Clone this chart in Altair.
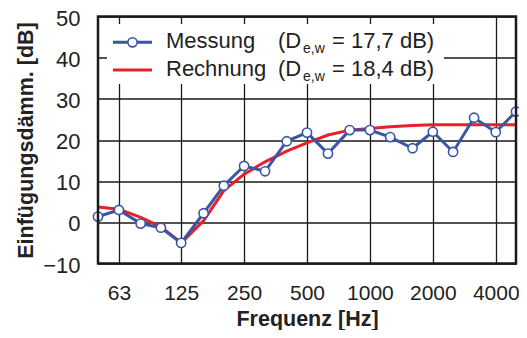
import altair as alt
import pandas as pd

freqs = [50, 63, 80, 100, 125, 160, 200, 250, 315, 400, 500, 630, 800,
         1000, 1250, 1600, 2000, 2500, 3150, 4000, 5000]
messung = [1.4, 3.0, -0.3, -1.3, -5.0, 2.2, 8.9, 13.7, 12.4, 19.7, 21.8,
           16.7, 22.4, 22.4, 20.7, 18.0, 22.0, 17.1, 25.4, 21.9, 26.9]
rechnung = [3.7, 3.2, 1.2, -1.1, -5.0, 0.4, 7.7, 11.7, 14.7, 17.3, 19.3,
            21.2, 22.4, 22.8, 23.2, 23.5, 23.7, 23.7, 23.7, 23.7, 23.7]
tick_vals = [63, 125, 250, 500, 1000, 2000, 4000]
y_ticks = [-10, 0, 10, 20, 30, 40, 50]

df = pd.DataFrame({"f": freqs, "m": messung, "r": rechnung})

BLUE = "#3a55a4"
RED = "#e8202a"
FONT = "Liberation Sans"
W, H = 418, 247

x = alt.X("f:Q", scale=alt.Scale(type="log", domain=[50, 5000], nice=False),
          axis=alt.Axis(values=tick_vals, format="d", title="Frequenz [Hz]",
                        labelFontSize=21, labelFont=FONT, labelColor="#222",
                        ticks=False, tickSize=0, domain=False, labelPadding=35.5,
                        labelBaseline="alphabetic", labelFlush=False,
                        labelOverlap=False, titleFont=FONT, titleFontSize=21.5,
                        titleFontWeight="bold", titleColor="#222", titleY=62,
                        titleBaseline="alphabetic",
                        grid=True, gridColor="#1a1a1a", gridWidth=1.3))
y_axis = alt.Axis(values=y_ticks, format="d", title="Einfügungsdämm. [dB]",
                  labelFontSize=22, labelFont=FONT, labelColor="#222",
                  ticks=False, tickSize=0, domain=False, labelPadding=18,
                  labelOffset=1.5, labelFlush=False,
                  titleFont=FONT, titleFontSize=21.5, titleFontWeight="bold",
                  titleColor="#222", titleX=-72, titleY=H / 2, titleAngle=-90,
                  titleBaseline="middle", titleAlign="center",
                  grid=True, gridColor="#1a1a1a", gridWidth=1.3)
yscale = alt.Scale(domain=[-10, 50], nice=False)

base = alt.Chart(df)
red = base.mark_line(color=RED, strokeWidth=3).encode(
    x=x, y=alt.Y("r:Q", scale=yscale, axis=y_axis))
blue = base.mark_line(color=BLUE, strokeWidth=3).encode(
    x="f:Q", y=alt.Y("m:Q", scale=yscale))
pts = base.mark_point(shape="circle", filled=True, fill="white", stroke=BLUE,
                      strokeWidth=1.6, size=85, opacity=1).encode(
    x="f:Q", y=alt.Y("m:Q", scale=yscale))

# legend (manual)
leg = alt.Chart(pd.DataFrame({"a": [0]}))
box = leg.mark_rect(color="white").encode(
    x=alt.value(9), x2=alt.value(346), y=alt.value(7.5), y2=alt.value(67.5))
l1 = leg.mark_rule(color=BLUE, strokeWidth=3).encode(
    x=alt.value(15), x2=alt.value(54), y=alt.value(25.8))
p1 = leg.mark_point(shape="circle", filled=True, fill="white", stroke=BLUE,
                    strokeWidth=1.6, size=85, opacity=1).encode(
    x=alt.value(34.5), y=alt.value(25.8))
l2 = leg.mark_rule(color=RED, strokeWidth=3).encode(
    x=alt.value(15), x2=alt.value(54), y=alt.value(53.5))
frame = leg.mark_rect(fillOpacity=0, stroke="#1a1a1a", strokeWidth=2.5).encode(
    x=alt.value(0), x2=alt.value(W), y=alt.value(0), y2=alt.value(H))

def txt(s, xx, yy, size=22):
    return leg.mark_text(text=s, font=FONT, fontSize=size, color="#222",
                         align="left", baseline="alphabetic").encode(
        x=alt.value(xx), y=alt.value(yy))

texts = [
    txt("Messung", 68, 31.5),
    txt("(D", 180, 31.5),
    txt("e,w", 205, 36, 14),
    txt("= 17,7 dB)", 234, 31.5),
    txt("Rechnung", 68, 59.5),
    txt("(D", 180, 59.5),
    txt("e,w", 205, 64, 14),
    txt("= 18,4 dB)", 234, 59.5),
]

chart = alt.layer(red, blue, pts, box, l1, l2, p1, *texts, frame).properties(
    width=W, height=H,
    autosize=alt.AutoSizeParams(type="none"),
    padding={"left": 90, "top": 8.5, "right": 3, "bottom": 66},
).configure_view(stroke=None).configure(background="white")

chart.save("out.html", embed_options={"renderer": "svg", "actions": False})
